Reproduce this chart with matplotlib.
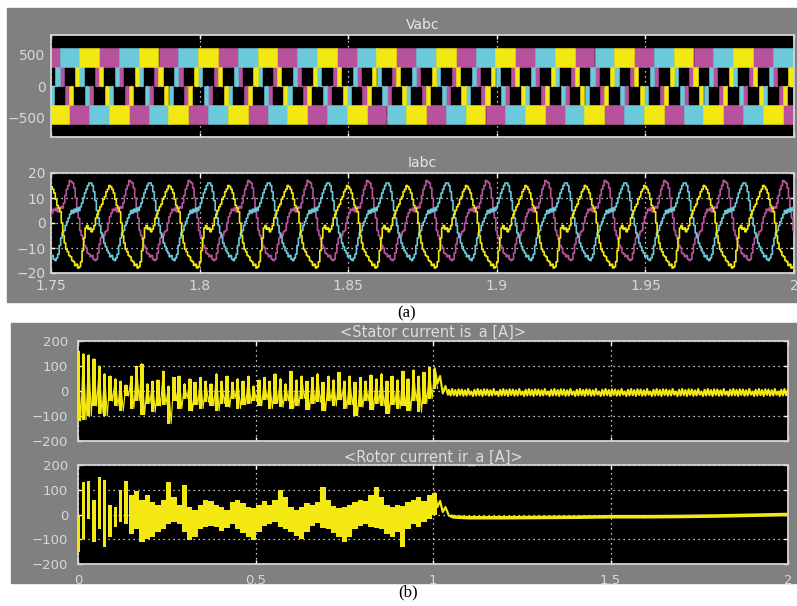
import matplotlib
matplotlib.use('Agg')
import matplotlib.pyplot as plt
import numpy as np
from matplotlib.patches import Rectangle

# ---------------- data ----------------
PERIOD = 0.02  # 50 Hz

# Vabc: one phase over one cycle, as filled PWM bands (deg from start of top block)
v_seg_start = [0, 120, 155, 180, 300, 335]
v_seg_end = [120, 145, 180, 300, 325, 360]
v_seg_low = [300, 0, -300, -600, -300, 0]
v_seg_high = [600, 300, 0, -300, 0, 300]
v_phase_start = [1.7462, 1.7529, 1.7595]   # magenta, cyan, yellow

# Iabc: one cycle of each phase current, from its peak, every 0.02/40 s
i_yellow = [14.5, 13.5, 12, 9.5, 7, 6, 4.5, 0, -5, -8, -10.5, -11.5, -13, -13.5,
            -15, -15.5, -17, -16.5, -18, -17.5, -15.5, -11, -6, -2, -1, -2.5, -2,
            -3.5, -2.5, -1, 2, 3.5, 5, 6.5, 7.5, 9.5, 10.5, 12.5, 13.5, 15]
i_magenta = [16.5, 16, 14, 10, 5.5, 2, -3, -5, -6.5, -9, -10, -12, -12.5, -13.5,
             -13, -14.5, -15, -14.5, -12, -8.5, -6, -4.5, -5, -3.5, -3, 0, 2.5, 4,
             5.5, 5, 6, 4.5, 5.5, 6.5, 6, 8, 11, 13.5, 15, 17]
i_cyan = [16, 15, 12.5, 9, 5, 2, -1, -4, -5.5, -8, -9.5, -11, -12, -13.5, -13,
          -14.5, -15, -14, -12.5, -9, -6, -4, -3, -1, 0.5, 2, 3.5, 5, 4, 5.5, 4.5,
          6, 5, 6.5, 8, 10, 12, 13.5, 15, 16]
i_peak_time = [1.7502, 1.7569, 1.7635]   # yellow, magenta, cyan

# stator current is_a: bars (high/low) every 0.015 s during 0..1 s
stator_hi = [160, 150, 145, 130, 100, 70, 60, 50, 40, 25, 60, 100, 110, 30, 40, 45,
             80, 20, 55, 60, 30, 50, 35, 55, 40, 30, 70, 40, 60, 35, 50, 40, 60, 20,
             45, 55, 40, 70, 50, 30, 80, 45, 60, 40, 55, 70, 35, 60, 45, 75, 40, 60,
             35, 55, 40, 65, 50, 70, 40, 60, 45, 80, 50, 85, 60, 75, 95, 90]
stator_lo = [-120, -115, -100, -60, -90, -100, -40, -60, -80, -20, -70, -40, -95, -50,
             -85, -60, -55, -130, -40, -70, -30, -80, -55, -70, -45, -60, -80, -50,
             -65, -30, -70, -55, -50, -40, -60, -35, -70, -50, -65, -40, -70, -60,
             -30, -75, -50, -45, -80, -40, -60, -35, -70, -55, -100, -65, -40, -75,
             -50, -60, -90, -55, -70, -60, -80, -40, -85, -50, -30, 10]
stator_tr_t = [1.005, 1.0125, 1.02, 1.0275, 1.035, 1.042]
stator_tr_v = [90, 30, 60, -10, 20, -15]
stator_ss = [5, -18, 8, -17, 4, -20, 7, -16, 6, -19, 3, -18, 8, -15, -2, -20]

# rotor current ir_a
rotor_hi = [0, 130, 135, 60, 150, 140, 40, 30, 100, 135, 80, 95, 60, 80, 50, 40, 60,
            130, 70, 40, 120, 30, 20, 40, 60, 55, 40, 30, 20, 50, 60, 45, 30, 25, 40,
            55, 40, 60, 100, 70, 30, 20, 30, 45, 40, 50, 110, 60, 35, 25, 30, 40, 50,
            60, 55, 80, 110, 70, 40, 30, 40, 35, 50, 60, 70, 55, 80, 85]
rotor_lo = [-150, -100, -20, -110, -60, -130, -90, -50, -30, -40, -80, -60, -110, -100,
            -90, -70, -60, -40, -30, -40, -70, -105, -90, -60, -50, -45, -50, -65, -55,
            -40, -60, -75, -90, -105, -70, -45, -40, -30, -50, -60, -70, -85, -100,
            -70, -45, -35, -55, -60, -75, -90, -110, -90, -60, -45, -40, -50, -55,
            -60, -80, -90, -70, -130, -60, -40, -50, -30, -20, 0]
rotor_tr_t = [1.005, 1.0125, 1.02, 1.0275, 1.035, 1.045, 1.055]
rotor_tr_v = [85, 30, 55, 10, 30, -5, -8]
rotor_ss_t = [1.06, 1.1, 1.2, 1.3, 1.4, 1.5, 1.6, 1.7, 1.8, 1.9, 2.0]
rotor_ss_v = [-10, -13, -13, -12, -11, -9, -9, -8, -6, -3, 0]

YELLOW = '#f4e812'
MAGENTA = '#b8529c'
CYAN = '#6cc9da'
GRAY = '#808080'

# ---------------- figure ----------------
W, H = 797, 606
fig = plt.figure(figsize=(W / 100, H / 100), dpi=100, facecolor='white')
plt.rcParams['font.family'] = ['DejaVu Sans']


def ax_px(l, t, r, b):
    return fig.add_axes([l / W, 1 - b / H, (r - l) / W, (b - t) / H])


def style(ax, fs, pad):
    ax.set_facecolor('black')
    for s in ax.spines.values():
        s.set_color('#d4d4d4')
        s.set_linewidth(1.3)
    ax.tick_params(direction='in', length=3, width=1, color='white',
                   labelcolor='#d8d8d8', labelsize=fs, pad=pad,
                   top=True, right=True)
    ax.grid(True, color='white', linestyle=(0, (1, 3)), linewidth=0.9)
    ax.set_axisbelow(True)


for (x0, y0, x1, y1) in [(7, 8, 797, 302), (11, 323, 797, 583)]:
    fig.add_artist(Rectangle((x0 / W, 1 - y1 / H), (x1 - x0) / W, (y1 - y0) / H,
                             transform=fig.transFigure, color=GRAY, zorder=-5))

# ---- (a) Vabc ----
ax1 = ax_px(51, 35, 794, 137)
style(ax1, 10, 4)
for start, col in zip(v_phase_start, [MAGENTA, CYAN, YELLOW]):
    for k in range(-1, 14):
        t0 = start + k * PERIOD
        xs = [t0 + s / 360 * PERIOD for s in v_seg_start]
        ws = [(e - s) / 360 * PERIOD for s, e in zip(v_seg_start, v_seg_end)]
        hs = [h - l for l, h in zip(v_seg_low, v_seg_high)]
        ax1.bar(xs, hs, width=ws, bottom=v_seg_low, align='edge', color=col,
                edgecolor=col, linewidth=0.4, zorder=2)
ax1.set_xlim(1.75, 2.0)
ax1.set_ylim(-800, 800)
ax1.set_yticks([-500, 0, 500])
ax1.set_xticks([1.75, 1.8, 1.85, 1.9, 1.95, 2.0])
ax1.set_xticklabels([])
ax1.set_title('Vabc', color='#e6e6e6', fontsize=10, pad=4)

# ---- (a) Iabc ----
ax2 = ax_px(51, 173, 794, 273)
style(ax2, 10, 4)
for shape, t_pk, col in [(i_magenta, i_peak_time[1], MAGENTA),
                         (i_cyan, i_peak_time[2], CYAN),
                         (i_yellow, i_peak_time[0], YELLOW)]:
    n = len(shape)
    ts = np.concatenate([t_pk + k * PERIOD + np.arange(n) * PERIOD / n
                         for k in range(-2, 14)])
    vs = np.tile(shape, 16)
    ax2.plot(ts, vs, color=col, linewidth=1.2, drawstyle='steps-mid', zorder=3)
ax2.set_xlim(1.75, 2.0)
ax2.set_ylim(-20, 20)
ax2.set_yticks([-20, -10, 0, 10, 20])
ax2.set_xticks([1.75, 1.8, 1.85, 1.9, 1.95, 2.0])
ax2.set_xticklabels(['1.75', '1.8', '1.85', '1.9', '1.95', '2'])
ax2.set_title('Iabc', color='#e6e6e6', fontsize=10, pad=4)

fig.text(407 / W, 1 - 313 / H, '(a)', family='Liberation Serif', fontsize=12,
         ha='center', va='center')

# ---- (b) stator / rotor ----
DT = 0.015
ax3 = ax_px(78, 341, 788, 441)
style(ax3, 9.5, 7)
t_bar = np.arange(len(stator_hi)) * DT
ax3.bar(t_bar, np.subtract(stator_hi, stator_lo), bottom=stator_lo, width=0.0095,
        color=YELLOW, linewidth=0, zorder=3)
ax3.plot(np.repeat(t_bar, 2) + np.tile([0, DT / 2], len(t_bar)),
         np.ravel(np.column_stack([stator_hi, stator_lo])),
         color=YELLOW, linewidth=0.8, zorder=3)
ss_t = 1.045 + np.arange(len(stator_ss) * 15) * 0.0045
ss_v = np.tile(stator_ss, 15)
ax3.plot(np.concatenate([stator_tr_t, ss_t]), np.concatenate([stator_tr_v, ss_v]),
         color=YELLOW, linewidth=1.5, zorder=3)
ax3.set_xlim(0, 2)
ax3.set_ylim(-200, 200)
ax3.set_yticks([-200, -100, 0, 100, 200])
ax3.set_xticks([0, 0.5, 1, 1.5, 2])
ax3.set_xticklabels([])
ax3.set_title('<Stator current is_a [A]>', color='#dcdcdc', fontsize=10.5, pad=2)

ax4 = ax_px(78, 465, 788, 564)
style(ax4, 9.5, 7)
t_bar = np.arange(len(rotor_hi)) * DT
widths = np.where(t_bar < 0.15, 0.0095, DT)
ax4.bar(t_bar, np.subtract(rotor_hi, rotor_lo), bottom=rotor_lo, width=widths,
        color=YELLOW, linewidth=0, zorder=3)
ax4.plot(np.concatenate([t_bar[-1:], rotor_tr_t]), np.concatenate([rotor_hi[-1:], rotor_tr_v]),
         color=YELLOW, linewidth=1.6, zorder=3)
ax4.plot(np.concatenate([rotor_tr_t[-1:], rotor_ss_t]),
         np.concatenate([rotor_tr_v[-1:], rotor_ss_v]), color=YELLOW,
         linewidth=2.6, zorder=3)
ax4.set_xlim(0, 2)
ax4.set_ylim(-200, 200)
ax4.set_yticks([-200, -100, 0, 100, 200])
ax4.set_xticks([0, 0.5, 1, 1.5, 2])
ax4.set_xticklabels(['0', '0.5', '1', '1.5', '2'])
ax4.set_title('<Rotor current ir_a [A]>', color='#dcdcdc', fontsize=10.5, pad=2)

fig.text(408 / W, 1 - 592 / H, '(b)', family='Liberation Serif', fontsize=12,
         ha='center', va='center')

fig.savefig('out.png', dpi=100, facecolor='white')
